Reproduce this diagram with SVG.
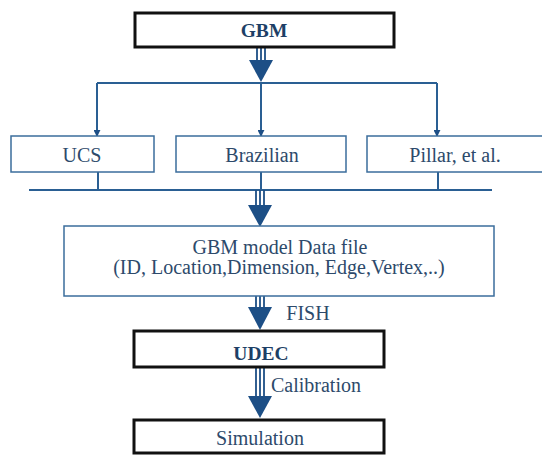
<svg xmlns="http://www.w3.org/2000/svg" width="542" height="457" viewBox="0 0 542 457">
<style>
.t{font-family:"Liberation Serif","Times New Roman",serif;fill:#2d4a6b;text-anchor:middle;font-size:20px}
.b{font-weight:bold;fill:#1d3f66;font-size:19.5px}
.thick{fill:#fff;stroke:#111;stroke-width:3}
.thin{fill:#fff;stroke:#3b6d9c;stroke-width:1.5}
.ln{stroke:#2a5f93;stroke-width:2;fill:none}
.sh{stroke:#1d4f86;stroke-width:1.8;fill:none}
.ah{fill:#1d4f86}
</style>
<defs>
<marker id="sm" viewBox="0 0 8 8" refX="7" refY="4" markerWidth="7" markerHeight="7" orient="auto" markerUnits="userSpaceOnUse">
<path d="M0,0 L8,4 L0,8 z" fill="#1d4f86"/>
</marker>
</defs>
<rect width="542" height="457" fill="#fff"/>
<g id="connectors">
<g id="c1"><path class="sh" d="M257,48V64M261,48V64M265,48V64"/><path class="ah" d="M249,60H273L261,82z"/></g>
<path class="ln" d="M97,83H437"/>
<path class="ln" d="M97,83V136" marker-end="url(#sm)"/>
<path class="ln" d="M261,83V136" marker-end="url(#sm)"/>
<path class="ln" d="M437,83V136" marker-end="url(#sm)"/>
<path class="ln" d="M98,172V190M261,172V190M438,172V190"/>
<path class="ln" d="M29,190H492"/>
<g id="c2"><path class="sh" d="M256,190V208M260,190V208M264,190V208"/><path class="ah" d="M248,205H272L260,227z"/></g>
<g id="c3"><path class="sh" d="M256,296V310M260,296V310M264,296V310"/><path class="ah" d="M248,307H272L260,330z"/></g>
<g id="c4"><path class="sh" d="M256,367V398M260,367V398M264,367V398"/><path class="ah" d="M248,396H272L260,418z"/></g>
</g>
<g id="gbm"><rect class="thick" x="135" y="13" width="259" height="34"/><text class="t b" x="264" y="37">GBM</text></g>
<g id="ucs"><rect class="thin" x="11" y="136" width="143" height="36"/><text class="t" x="82" y="162">UCS</text></g>
<g id="brazilian"><rect class="thin" x="176" y="136" width="170" height="36"/><text class="t" x="262" y="162">Brazilian</text></g>
<g id="pillar"><rect class="thin" x="367" y="136" width="178" height="36"/><text class="t" x="455" y="162">Pillar, et al.</text></g>
<g id="datafile"><rect class="thin" x="64" y="226" width="430" height="70"/><text class="t" x="280" y="254">GBM model Data file</text><text class="t" x="279" y="274">(ID, Location,Dimension, Edge,Vertex,..)</text></g>
<text class="t" x="308" y="320" font-size="19">FISH</text>
<g id="udec"><rect class="thick" x="134" y="331" width="250" height="36"/><text class="t b" x="261" y="360">UDEC</text></g>
<text class="t" x="316" y="392">Calibration</text>
<g id="simulation"><rect class="thick" x="134" y="420" width="250" height="33"/><text class="t" x="260" y="445">Simulation</text></g>
</svg>
